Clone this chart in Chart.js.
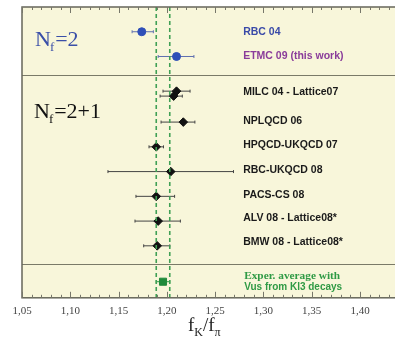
<!DOCTYPE html>
<html><head><meta charset="utf-8">
<script src="https://cdn.jsdelivr.net/npm/chart.js@4.4.0/dist/chart.umd.min.js"></script>
<style>html,body{margin:0;padding:0;background:#fff}#wrap{width:395px;height:342px}</style>
</head><body><div id="wrap"><canvas id="c" width="395" height="342"></canvas></div>
<script>
// ---- data ----
const nf2Names = ['RBC 04', 'ETMC 09 (this work)'];
const nf2Values = [1.174, 1.210];
const nf2ErrLo = [0.010, 0.019];
const nf2ErrHi = [0.012, 0.018];
const nf2Rows = [1, 2];
const nf2Colors = ['#3a4aa8', '#8a3c9a'];

const nf21Names = ['MILC 04', 'MILC Lattice07', 'NPLQCD 06', 'HPQCD-UKQCD 07', 'RBC-UKQCD 08', 'PACS-CS 08', 'ALV 08 - Lattice08*', 'BMW 08 - Lattice08*'];
const nf21Values = [1.210, 1.207, 1.217, 1.189, 1.204, 1.189, 1.191, 1.190];
const nf21ErrLo = [0.014, 0.014, 0.023, 0.0075, 0.065, 0.021, 0.024, 0.014];
const nf21ErrHi = [0.014, 0.009, 0.012, 0.0075, 0.065, 0.019, 0.023, 0.013];
const nf21Rows = [3.4, 3.6, 4.65, 5.65, 6.65, 7.65, 8.65, 9.65];

const nf21Labels = ['MILC 04 - Lattice07', 'NPLQCD 06', 'HPQCD-UKQCD 07', 'RBC-UKQCD 08', 'PACS-CS 08', 'ALV 08 - Lattice08*', 'BMW 08 - Lattice08*'];
const nf21LabelRows = [3.45, 4.6, 5.6, 6.6, 7.6, 8.55, 9.5];

const experValue = [1.196];
const experErr = [0.007];
const experRow = [11.1];
const experLabel = ['Exper. average with', 'Vus from Kl3 decays'];
const bandEdges = [1.189, 1.203];
const separatorRows = [2.75, 10.4];

const tickValues = [1.05, 1.10, 1.15, 1.20, 1.25, 1.30, 1.35, 1.40];
const tickLabels = ['1,05', '1,10', '1,15', '1,20', '1,25', '1,30', '1,35', '1,40'];
const xMin = 1.05, xMax = 1.430, yMax = 11.75;
const labelX = 1.279;

// ---- build ----
const green = '#2f9a45';
const datasets = [];
bandEdges.forEach(v => datasets.push({
  type: 'line', data: [{x: v, y: 0}, {x: v, y: yMax}], borderColor: '#40a055',
  borderWidth: 1.6, borderDash: [4, 3], pointRadius: 0
}));
datasets.push({
  data: nf2Values.map((v, i) => ({x: v, y: nf2Rows[i]})), pointStyle: 'circle', radius: 4,
  backgroundColor: '#2f4fb8', borderColor: '#2f4fb8', errLo: nf2ErrLo, errHi: nf2ErrHi, errColor: '#6070b0'
});
datasets.push({
  data: nf21Values.map((v, i) => ({x: v, y: nf21Rows[i]})), pointStyle: 'rectRot', radius: 4.3,
  backgroundColor: '#111', borderColor: '#111', errLo: nf21ErrLo, errHi: nf21ErrHi, errColor: '#444'
});
datasets.push({
  data: experValue.map((v, i) => ({x: v, y: experRow[i]})), pointStyle: 'rect', radius: 5,
  backgroundColor: '#1f8a3a', borderColor: '#1f8a3a', errLo: experErr, errHi: experErr, errColor: green
});

const deco = {
  id: 'deco',
  beforeDraw(chart) {
    const {ctx, chartArea: a, width} = chart;
    ctx.save();
    ctx.fillStyle = '#f8f6da';
    ctx.fillRect(a.left, a.top, width - a.left, a.bottom - a.top);
    ctx.restore();
  },
  beforeDatasetsDraw(chart) {
    const {ctx, chartArea: a, scales: {x, y}, width} = chart;
    ctx.save();
    ctx.strokeStyle = '#7a7a68'; ctx.lineWidth = 1;
    separatorRows.forEach(r => {
      const py = Math.round(y.getPixelForValue(r)) + 0.5;
      ctx.beginPath(); ctx.moveTo(a.left, py); ctx.lineTo(width, py); ctx.stroke();
    });
    chart.data.datasets.forEach(ds => {
      if (!ds.errLo) return;
      ctx.strokeStyle = ds.errColor; ctx.lineWidth = 1;
      ds.data.forEach((p, i) => {
        const py = y.getPixelForValue(p.y);
        const x1 = x.getPixelForValue(p.x - ds.errLo[i]);
        const x2 = x.getPixelForValue(p.x + ds.errHi[i]);
        ctx.beginPath();
        ctx.moveTo(x1, py); ctx.lineTo(x2, py);
        ctx.moveTo(x1, py - 1.5); ctx.lineTo(x1, py + 1.5);
        ctx.moveTo(x2, py - 1.5); ctx.lineTo(x2, py + 1.5);
        ctx.stroke();
      });
    });
    ctx.restore();
  },
  afterDraw(chart) {
    const {ctx, chartArea: a, scales: {x, y}, width} = chart;
    ctx.save();
    ctx.strokeStyle = '#66665a'; ctx.lineWidth = 1.5;
    ctx.strokeRect(a.left, a.top, width + 4 - a.left, a.bottom - a.top);
    ctx.lineWidth = 1; ctx.strokeStyle = '#77776a';
    for (let k = Math.round(xMin * 100); k <= 144; k++) {
      const px = Math.round(x.getPixelForValue(k / 100)) + 0.5;
      if (px > width) break;
      const len = (k % 5 === 0) ? 6 : 3;
      ctx.beginPath();
      ctx.moveTo(px, a.bottom); ctx.lineTo(px, a.bottom - len);
      ctx.moveTo(px, a.top); ctx.lineTo(px, a.top + len);
      ctx.stroke();
    }
    ctx.textBaseline = 'middle'; ctx.textAlign = 'left';
    const lx = x.getPixelForValue(labelX);
    ctx.font = 'bold 10.5px "Liberation Sans", Arial, sans-serif';
    nf2Names.forEach((t, i) => { ctx.fillStyle = nf2Colors[i]; ctx.fillText(t, lx, y.getPixelForValue(nf2Rows[i])); });
    ctx.fillStyle = '#1a1a1a';
    nf21Labels.forEach((t, i) => ctx.fillText(t, lx, y.getPixelForValue(nf21LabelRows[i])));
    ctx.fillStyle = green;
    ctx.font = 'bold 11.3px "Liberation Serif", "Times New Roman", serif';
    ctx.fillText(experLabel[0], lx + 1, y.getPixelForValue(experRow[0]) - 6);
    ctx.font = 'bold 10px "Liberation Sans", Arial, sans-serif';
    ctx.fillText(experLabel[1], lx + 1, y.getPixelForValue(experRow[0]) + 6);
    ctx.textBaseline = 'alphabetic';
    function nf(text, px, py, color) {
      ctx.fillStyle = color;
      ctx.font = '22px "Liberation Serif", "Times New Roman", serif';
      ctx.fillText('N', px, py);
      let w = ctx.measureText('N').width;
      ctx.font = '13px "Liberation Serif", "Times New Roman", serif';
      ctx.fillText('f', px + w - 1, py + 5);
      w += ctx.measureText('f').width;
      ctx.font = '22px "Liberation Serif", "Times New Roman", serif';
      ctx.fillText(text, px + w, py);
    }
    nf('=2', 35, 46, '#3a4fa8');
    nf('=2+1', 34, 118, '#111');
    ctx.fillStyle = '#222';
    const tx = 188, ty = 331;
    ctx.font = '19px "Liberation Serif", "Times New Roman", serif';
    ctx.fillText('f', tx, ty);
    let w = ctx.measureText('f').width;
    ctx.font = '12px "Liberation Serif", "Times New Roman", serif';
    ctx.fillText('K', tx + w, ty + 5);
    w += ctx.measureText('K').width;
    ctx.font = '19px "Liberation Serif", "Times New Roman", serif';
    ctx.fillText('/f', tx + w, ty);
    w += ctx.measureText('/f').width;
    ctx.font = '12px "Liberation Serif", "Times New Roman", serif';
    ctx.fillText('\u03C0', tx + w, ty + 5);
    ctx.restore();
  }
};

new Chart(document.getElementById('c'), {
  type: 'scatter',
  data: {datasets},
  options: {
    responsive: false, animation: false, devicePixelRatio: 1,
    layout: {padding: {left: 22, right: 0, top: 7, bottom: 17}},
    plugins: {legend: {display: false}, tooltip: {enabled: false}},
    scales: {
      x: {
        type: 'linear', min: xMin, max: xMax,
        grid: {display: false, drawTicks: false}, border: {display: false},
        afterBuildTicks(axis) { axis.ticks = tickValues.map(v => ({value: v})); },
        ticks: {
          padding: 7, color: '#444',
          font: {family: '"Liberation Serif", "Times New Roman", serif', size: 11},
          callback: (v) => { const i = tickValues.findIndex(t => Math.abs(t - v) < 1e-6); return i >= 0 ? tickLabels[i] : ''; },
          maxRotation: 0, autoSkip: false
        }
      },
      y: {type: 'linear', min: 0, max: yMax, reverse: true, display: false}
    }
  },
  plugins: [deco]
});
</script>
</body></html>
